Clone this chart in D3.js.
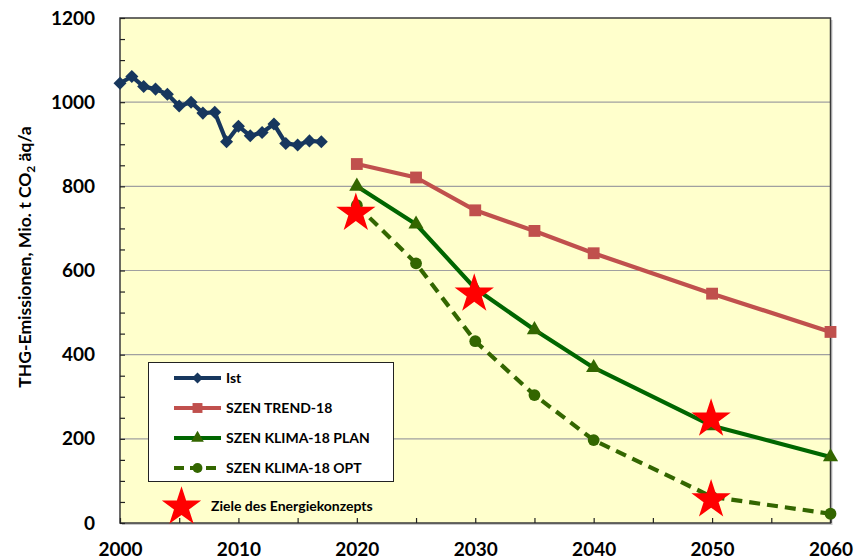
<!DOCTYPE html>
<html>
<head>
<meta charset="utf-8">
<script src="https://cdn.jsdelivr.net/npm/d3@7"></script>
<style>
  body { margin: 0; background: #fff; }
  svg text { font-family: Lato, "Open Sans", sans-serif; font-weight: bold; fill: #000; }
</style>
</head>
<body>
<svg id="chart" width="854" height="559"></svg>
<script>
// Ist-Werte (historische Emissionen)
const ist_years = [2000, 2001, 2002, 2003, 2004, 2005, 2006, 2007, 2008, 2009,
                   2010, 2011, 2012, 2013, 2014, 2015, 2016, 2017];
const ist_values = [1045, 1061, 1037, 1031, 1019, 991, 1000, 974, 976, 906,
                    943, 920, 928, 948, 902, 898, 908, 906];

// Szenarien
const scen_years = [2020, 2025, 2030, 2035, 2040, 2050, 2060];
const trend_values = [853, 821, 743, 694, 641, 545, 454];
const plan_values = [800, 710, 557, 459, 369, 231, 157];
const opt_values = [755, 617, 432, 304, 197, 62, 22];

// Ziele des Energiekonzepts
const target_years = [2020, 2030, 2050, 2050];
const target_values = [741, 549, 252, 60];

const x_ticks = [2000, 2010, 2020, 2030, 2040, 2050, 2060];
const y_ticks = [0, 200, 400, 600, 800, 1000, 1200];

const legend_labels = ["Ist", "SZEN TREND-18", "SZEN KLIMA-18 PLAN", "SZEN KLIMA-18 OPT"];
const target_label = "Ziele des Energiekonzepts";

const svg = d3.select("#chart");
const plot_left = 120, plot_right = 830.5, plot_top = 18, plot_bottom = 523;

const x = d3.scaleLinear().domain([2000, 2060]).range([plot_left, plot_right]);
const y = d3.scaleLinear().domain([0, 1200]).range([plot_bottom, plot_top]);

// plot background + shadow
svg.append("rect")
    .attr("x", plot_left + 2).attr("y", plot_top + 2)
    .attr("width", plot_right - plot_left).attr("height", plot_bottom - plot_top)
    .attr("fill", "#c8c8c8");
svg.append("rect")
    .attr("x", plot_left).attr("y", plot_top)
    .attr("width", plot_right - plot_left).attr("height", plot_bottom - plot_top)
    .attr("fill", "#ffffcc");

// gridlines
svg.append("g")
    .selectAll("line")
    .data(y_ticks.filter(d => d > 0 && d < 1200))
    .enter()
    .append("line")
        .attr("x1", plot_left).attr("x2", plot_right)
        .attr("y1", d => y(d)).attr("y2", d => y(d))
        .attr("stroke", "#a0a0a0")
        .attr("stroke-width", 1.2);

svg.append("rect")
    .attr("x", plot_left).attr("y", plot_top)
    .attr("width", plot_right - plot_left).attr("height", plot_bottom - plot_top)
    .attr("fill", "none")
    .attr("stroke", "#3a3a3a")
    .attr("stroke-width", 1.5);

// y axis, labels + minor ticks inside
const y_axis = svg.append("g")
    .attr("transform", `translate(${plot_left},0)`)
    .call(d3.axisLeft(y).tickValues(y_ticks).tickSize(0).tickPadding(25).tickFormat(d3.format("d")));
y_axis.select(".domain").remove();
y_axis.selectAll("text")
    .style("font-size", "19px")
    .attr("font-family", null);

svg.append("g")
    .attr("transform", `translate(${plot_left},0)`)
    .call(d3.axisRight(y).tickValues(d3.range(0, 1201, 50)).tickSize(5).tickFormat(""))
    .call(g => g.select(".domain").remove())
    .selectAll("line").attr("stroke", "#222").attr("stroke-width", 1.2);

// x axis, labels + ticks inside
const x_axis = svg.append("g")
    .attr("transform", `translate(0,${plot_bottom})`)
    .call(d3.axisBottom(x).tickValues(x_ticks).tickSize(0).tickPadding(20).tickFormat(d3.format("d")));
x_axis.select(".domain").remove();
x_axis.selectAll("text")
    .style("font-size", "19px")
    .attr("font-family", null);

svg.append("g")
    .attr("transform", `translate(0,${plot_bottom})`)
    .call(d3.axisTop(x).tickValues(d3.range(2000, 2061, 5)).tickSize(5).tickFormat(""))
    .call(g => g.select(".domain").remove())
    .selectAll("line").attr("stroke", "#222").attr("stroke-width", 1.2);

// y title
const y_title = svg.append("text")
    .attr("transform", "translate(31,257) rotate(-90)")
    .attr("text-anchor", "middle")
    .style("font-size", "17.5px");
y_title.append("tspan").text("THG-Emissionen,  Mio.  t CO");
y_title.append("tspan").attr("dy", 4).style("font-size", "12px").text("2");
y_title.append("tspan").attr("dy", -4).text(" äq/a");

// series
const series = [
    { years: ist_years, values: ist_values, color: "#17375e", symbol: d3.symbolSquare, size: 85, rot: 45, dash: null },
    { years: scen_years, values: trend_values, color: "#c0504d", symbol: d3.symbolSquare, size: 140, rot: 0, dash: null },
    { years: scen_years, values: plan_values, color: "#006600", symbol: d3.symbolTriangle, size: 100, rot: 0, dash: null },
    { years: scen_years, values: opt_values, color: "#336600", symbol: d3.symbolCircle, size: 110, rot: 0, dash: "11,7" }
];
const marker_color = ["#17375e", "#c0504d", "#336600", "#336600"];

series.forEach(function(s, i) {
    const pts = s.years.map((yr, j) => [yr, s.values[j]]);
    const line = d3.line()
        .x(d => x(d[0]))
        .y(d => y(d[1]));
    svg.append("path")
        .datum(pts)
        .attr("d", line)
        .attr("fill", "none")
        .attr("stroke", s.color)
        .attr("stroke-width", 4.2)
        .attr("stroke-linejoin", "round")
        .attr("stroke-dasharray", s.dash);
    svg.append("g")
        .selectAll("path")
        .data(pts)
        .enter()
        .append("path")
            .attr("d", d3.symbol().type(s.symbol).size(s.size))
            .attr("transform", d => `translate(${x(d[0])},${y(d[1])}) rotate(${s.rot})`)
            .attr("fill", marker_color[i]);
});

// stars
const star = d3.symbol().type(d3.symbolStar).size(480);
svg.append("g")
    .selectAll("path")
    .data(target_years.map((yr, j) => [yr, target_values[j]]))
    .enter()
    .append("path")
        .attr("d", star)
        .attr("transform", d => `translate(${x(d[0]) - 1},${y(d[1]) + 2})`)
        .attr("fill", "#ff0000");

// legend
const legend = svg.append("g");
legend.append("rect")
    .attr("x", 148.5).attr("y", 362.5)
    .attr("width", 245).attr("height", 119)
    .attr("fill", "#ffffff")
    .attr("stroke", "#222")
    .attr("stroke-width", 1);

const legend_y = d3.scalePoint().domain(legend_labels).range([378, 468]);
legend_labels.forEach(function(lbl, i) {
    const s = series[i];
    const ly = legend_y(lbl);
    legend.append("line")
        .attr("x1", 174).attr("x2", 221)
        .attr("y1", ly).attr("y2", ly)
        .attr("stroke", s.color)
        .attr("stroke-width", 4)
        .attr("stroke-dasharray", s.dash ? "10,6" : null);
    legend.append("path")
        .attr("d", d3.symbol().type(s.symbol).size(s.size * 0.7))
        .attr("transform", `translate(197.5,${ly}) rotate(${s.rot})`)
        .attr("fill", marker_color[i]);
    legend.append("text")
        .attr("x", 226).attr("y", ly)
        .attr("dy", "0.36em")
        .style("font-size", "14px")
        .text(lbl);
});

svg.append("path")
    .attr("d", star)
    .attr("transform", "translate(181.5,507)")
    .attr("fill", "#ff0000");
svg.append("text")
    .attr("x", 211).attr("y", 506)
    .attr("dy", "0.36em")
    .style("font-size", "14px")
    .text(target_label);
</script>
</body>
</html>
